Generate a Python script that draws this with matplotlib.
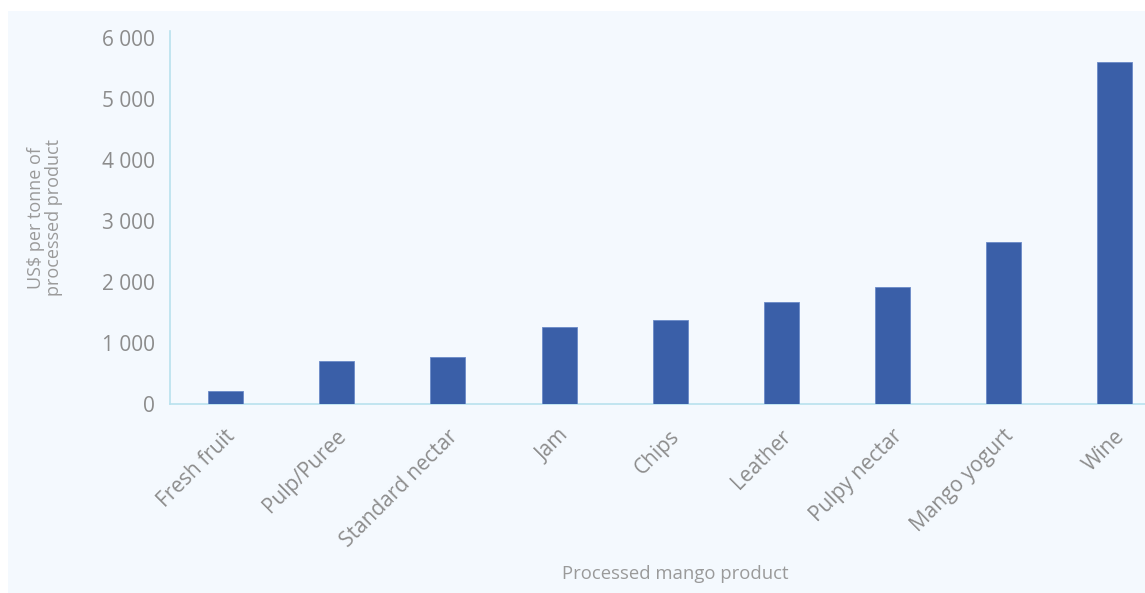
import matplotlib
matplotlib.use("Agg")
import matplotlib.pyplot as plt
from matplotlib.patches import Rectangle
from matplotlib.ticker import FuncFormatter
from matplotlib.transforms import ScaledTranslation

categories = ["Fresh fruit", "Pulp/Puree", "Standard nectar", "Jam", "Chips",
              "Leather", "Pulpy nectar", "Mango yogurt", "Wine"]
values = [210, 700, 770, 1260, 1370, 1670, 1910, 2650, 5600]
yticks = [0, 1000, 2000, 3000, 4000, 5000, 6000]

plt.rcParams['font.family'] = ['Open Sans', 'DejaVu Sans']
W, H = 1145, 593
fig = plt.figure(figsize=(W / 100, H / 100), dpi=100, facecolor='white')
bg = '#f4f9fe'
fig.patches.append(Rectangle((8 / W, 0), 1 - 8 / W, 1 - 11 / H,
                             transform=fig.transFigure, facecolor=bg,
                             edgecolor='none', zorder=-10))

left, right = 170 / W, 1.0
bottom, top = 1 - 404 / H, 1 - 31 / H
ax = fig.add_axes([left, bottom, right - left, top - bottom])
ax.set_facecolor('none')

x = list(range(len(categories)))
ax.bar(x, values, width=0.315, color='#3a5fa8', edgecolor='#6a8ac8',
       linewidth=0.6, zorder=3)

ax.set_xlim(-0.5, 8.27)
ax.set_ylim(0, 6110)
ax.set_yticks(yticks)
ax.yaxis.set_major_formatter(FuncFormatter(lambda v, p: f"{int(v):,}".replace(",", " ")))

spine_c = '#b8e2ee'
for s in ['top', 'right']:
    ax.spines[s].set_visible(False)
for s in ['left', 'bottom']:
    ax.spines[s].set_color(spine_c)
    ax.spines[s].set_linewidth(1.2)

ax.tick_params(axis='both', length=0, colors='#8c8c8c')
ax.tick_params(axis='y', pad=11, labelsize=15)
ax.tick_params(axis='x', pad=12)

ax.set_xticks(x)
ax.set_xticklabels(categories, rotation=45, ha='right', va='top',
                   rotation_mode='anchor', fontsize=15)
off = ScaledTranslation(-1 / 100, -5 / 100, fig.dpi_scale_trans)
for lab in ax.get_xticklabels():
    lab.set_transform(lab.get_transform() + off)

fig.text(675 / W, 1 - 574 / H, "Processed mango product", ha='center',
         va='center', fontsize=13.3, color='#9a9a9a')
fig.text(45 / W, 1 - 218 / H, "US$ per tonne of\nprocessed product", ha='center',
         va='center', rotation=90, fontsize=13, color='#9a9a9a',
         linespacing=1.05)

fig.savefig("out.png", dpi=100, facecolor='white')
